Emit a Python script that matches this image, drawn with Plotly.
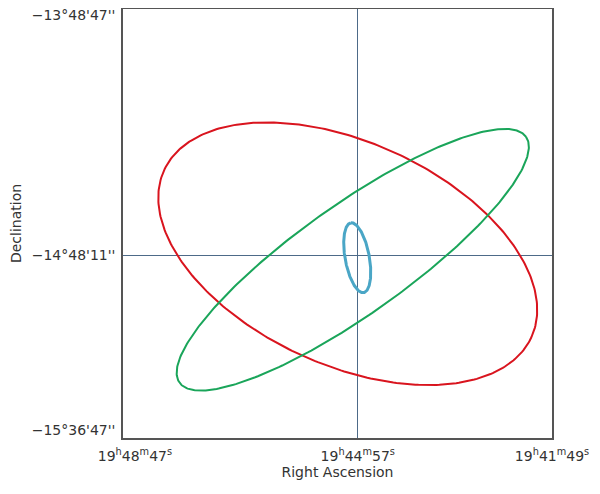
import numpy as np
import plotly.graph_objects as go

# Ellipse parameters, offsets in arcmin from the crosshair position
names = ["red", "green", "cyan"]
center_x = [-2.52, -1.26, -0.13]
center_y = [0.43, -1.08, -0.58]
semi_major = [50.8, 53.5, 8.94]
semi_minor = [28.1, 13.8, 3.05]
angle_deg = [-24.4, 35.4, 100.4]
colors = ["#d9141e", "#1aa55a", "#4aa6c6"]
widths = [2, 2, 3]

# Axis extent (arcmin) and labels
x_range = [-59.1, 48.9]
y_range = [-46.0, 62.1]
x_ticks = [-56.1, 0.0, 48.9]
x_labels = ["19<sup>h</sup>48<sup>m</sup>47<sup>s</sup>",
            "19<sup>h</sup>44<sup>m</sup>57<sup>s</sup>",
            "19<sup>h</sup>41<sup>m</sup>49<sup>s</sup>"]
y_ticks = [-43.9, 0.0, 60.6]
y_labels = ["\u221215\u00b036'47''", "\u221214\u00b048'11''", "\u221213\u00b048'47''"]

t = np.linspace(0, 2 * np.pi, 361)

fig = go.Figure()
for i, name in enumerate(names):
    th = np.radians(angle_deg[i])
    a, b = semi_major[i], semi_minor[i]
    x = center_x[i] + a * np.cos(th) * np.cos(t) - b * np.sin(th) * np.sin(t)
    y = center_y[i] + a * np.sin(th) * np.cos(t) + b * np.cos(th) * np.sin(t)
    fig.add_trace(
        go.Scatter(
            x=x,
            y=y,
            mode="lines",
            name=name,
            line={"color": colors[i], "width": widths[i]},
            showlegend=False,
        )
    )

axis_common = dict(
    showgrid=False,
    zeroline=True,
    zerolinecolor="#4d6a88",
    zerolinewidth=1,
    showline=True,
    linecolor="#555555",
    linewidth=1.5,
    mirror=True,
    ticks="",
    automargin=False,
    ticklabeloverflow="allow",
    tickfont={"size": 14, "color": "#333333"},
    title_font={"size": 14, "color": "#333333"},
)

fig.update_xaxes(
    range=x_range,
    tickvals=x_ticks,
    ticktext=x_labels,
    title_text="Right Ascension",
    title_standoff=5,
    ticklabelstandoff=4,
    **axis_common,
)
fig.update_yaxes(
    range=y_range,
    tickvals=y_ticks,
    ticktext=y_labels,
    title_text="Declination",
    title_standoff=11,
    ticklabelstandoff=3,
    **axis_common,
)

# page body has an 8px margin, so the figure is sized to the remaining space
fig.update_layout(
    width=592,
    height=486,
    font={"family": "DejaVu Sans", "size": 14, "color": "#333333"},
    plot_bgcolor="white",
    paper_bgcolor="white",
    margin={"l": 115, "r": 48, "t": 1, "b": 56},
)

fig.write_html("out.html")
